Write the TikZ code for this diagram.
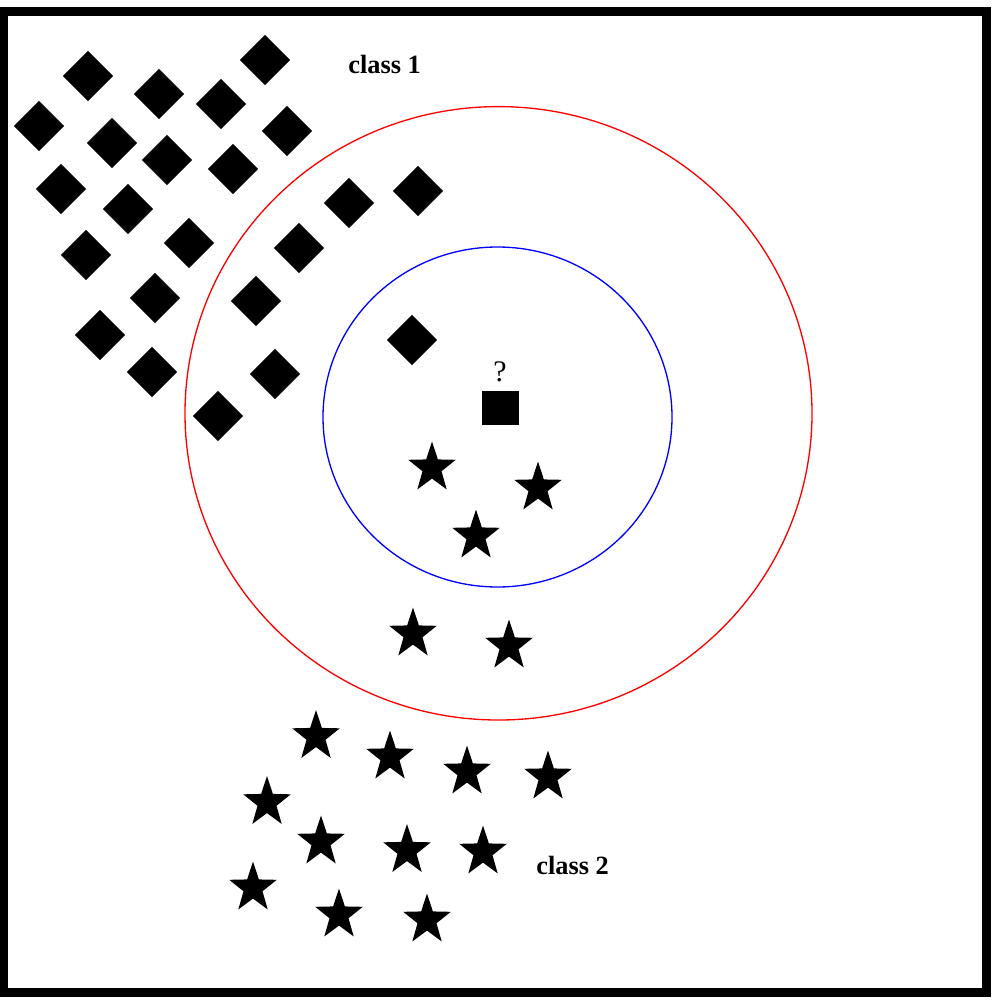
\documentclass[tikz,border=0pt]{standalone}
\usepackage{fontspec}
\setmainfont{Liberation Serif}
\usetikzlibrary{shapes.geometric}
\tikzset{
  diapt/.style={diamond, fill=black, inner sep=0pt, minimum width=1.012cm, minimum height=1.012cm},
  querypt/.style={rectangle, fill=black, inner sep=0pt, minimum width=0.74cm, minimum height=0.68cm},
  classlabel/.style={anchor=base west, font=\fontsize{15}{18}\selectfont\bfseries, inner sep=0pt},
  qlabel/.style={font=\fontsize{17}{20}\selectfont, inner sep=0pt},
  ring/.style={line width=0.75pt},
  frame/.style={line width=0.18cm},
  pics/kstar/.style={code={
    \fill[black] (0,-26.5) -- (5.878,-8.575) -- (23.776,-8.189) -- (9.511,3.275)
      -- (14.695,21.439) -- (0,10.6) -- (-14.695,21.439) -- (-9.511,3.275)
      -- (-23.776,-8.189) -- (-5.878,-8.575) -- cycle;
  }}
}
\begin{document}
\begin{tikzpicture}[x=0.02cm,y=-0.02cm]
\useasboundingbox (0,0) rectangle (997,1000);
% frame
\draw[frame] (4,11.5) rectangle (986,992);
% neighbourhood rings
\draw[ring, red] (498.5,413.3) ellipse [x radius=313.5, y radius=306.7];
\draw[ring, blue] (497.5,417) ellipse [x radius=174.5, y radius=170];
% class 1 diamonds
\foreach \px/\py [count=\i] in {88/76,265/60,159/94,221/104,39/126,112/143,167/160,233/169,287/131,61/189,128/209,189/243,86/255,155/298,100/335,152/372,349/203,418/191,299/248,256/301,275/374,218/416,412/340}
  \node[diapt] (d\i) at (\px,\py) {};
% class 2 stars
\foreach \px/\py [count=\i] in {432/468,538/488,476/536,413/634,509/646,316/736.5,390/757,467/772,548/777,267/802.5,321/842,407/850.5,483/852,253/888,339/915,427/920}
  \pic (s\i) at (\px,\py) {kstar};
% query point
\node[querypt] (q) at (500.5,408) {};
\node[qlabel] (qm) at (500,372) {?};
% labels
\node[classlabel] (c1) at (348,74) {class 1};
\node[classlabel] (c2) at (536,874) {class 2};
\end{tikzpicture}
\end{document}
